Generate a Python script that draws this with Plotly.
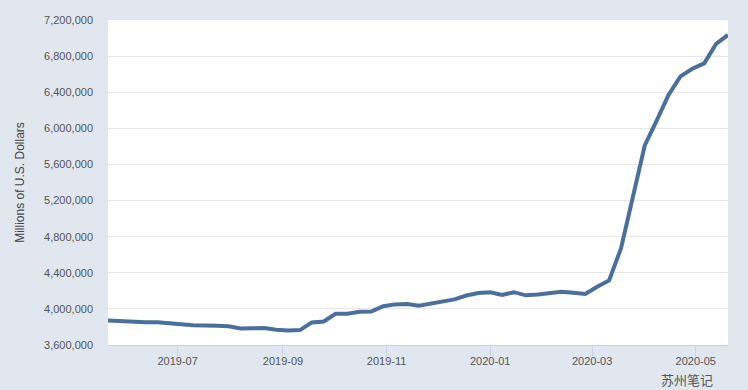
import plotly.graph_objects as go
import pandas as pd

dates = pd.date_range("2019-05-22", "2020-05-20", freq="7D").strftime("%Y-%m-%d").tolist()
dates[0] = "2019-05-21"
assets = [3871000, 3863000, 3855000, 3853000, 3853000, 3847000, 3830000, 3818000, 3820000,
          3813000, 3807000, 3783000, 3785000, 3787000, 3770000, 3762000, 3765000,
          3850000, 3861000, 3945000, 3947000, 3968000, 3970000, 4030000, 4050000, 4055000,
          4035000, 4060000, 4075000, 4105000, 4148000, 4175000, 4185000, 4155000, 4185000,
          4150000, 4160000, 4178000, 4190000, 4180000, 4165000, 4245000, 4315000, 4670000,
          5250000, 5810000, 6085000, 6370000, 6575000, 6660000, 6720000, 6935000, 7035000]
y_ticks = [3600000, 4000000, 4400000, 4800000, 5200000, 5600000, 6000000, 6400000, 6800000, 7200000]
x_ticks = ["2019-07-01", "2019-09-01", "2019-11-01", "2020-01-01", "2020-03-01", "2020-05-01"]
x_labels = ["2019-07", "2019-09", "2019-11", "2020-01", "2020-03", "2020-05"]
y_title = "Millions of U.S. Dollars"
watermark = "苏州笔记"

fig = go.Figure(go.Scatter(x=dates, y=assets, mode="lines",
                           line=dict(color="#4a6f9c", width=4), hoverinfo="x+y"))
fig.update_layout(
    width=748, height=390, showlegend=False,
    margin=dict(l=108, r=20, t=20, b=45),
    paper_bgcolor="#e0e7ef", plot_bgcolor="#ffffff",
    font=dict(family="Liberation Sans, Arial, sans-serif", size=11, color="#555555"),
    xaxis=dict(range=["2019-05-21", "2020-05-20"], tickvals=x_ticks, ticktext=x_labels,
               showgrid=False, zeroline=False, ticks="outside", ticklen=10, tickcolor="#c8d4e0",
               ticklabelstandoff=-4,
               showline=True, linecolor="#c8d4e0", tickfont=dict(size=11, color="#555555")),
    yaxis=dict(range=[3600000, 7200000], tickvals=y_ticks, tickformat=",d",
               gridcolor="#e8e8e8", gridwidth=1, zeroline=False, showline=False,
               ticks="", ticklabelstandoff=14, tickfont=dict(size=11, color="#555555"),
               title=dict(text=y_title, font=dict(size=12, color="#444444"), standoff=16)),
    annotations=[
        dict(text=watermark, xref="paper", yref="paper", x=0.89, y=-0.137, xanchor="left",
             yanchor="bottom", showarrow=False, borderpad=0,
             font=dict(family="Noto Sans CJK SC", size=13, color="#555555")),
    ],
)
fig.write_html("out.html", config={"displayModeBar": False},
               post_script="document.body.style.margin='0';document.body.style.overflow='hidden';")
